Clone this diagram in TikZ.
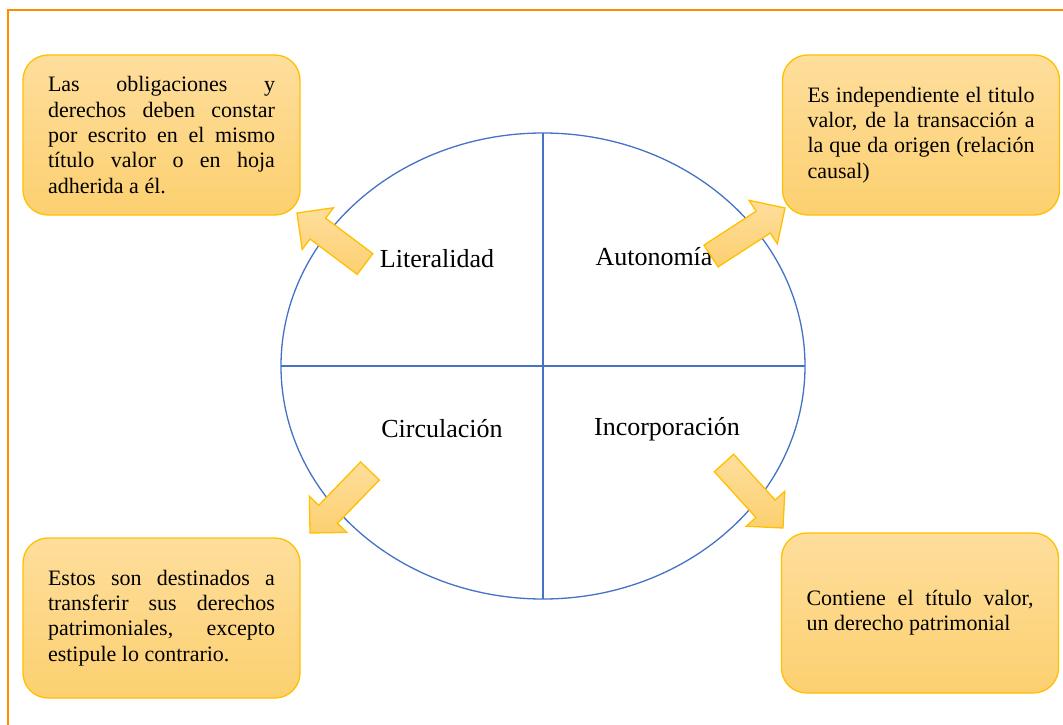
\documentclass[tikz,border=0pt]{standalone}
\usepackage{fontspec}
\setmainfont{Liberation Serif}
\usetikzlibrary{calc,shapes.geometric}
\tolerance=10000 \hbadness=10000
\definecolor{frameor}{RGB}{255,140,0}
\definecolor{circblue}{RGB}{68,114,196}
\definecolor{boxtop}{RGB}{254,222,156}
\definecolor{boxbot}{RGB}{252,208,112}
\definecolor{boxline}{RGB}{255,192,0}
\newcommand\blockarr[2]{%
  \coordinate (#1h) at ($(#2)!26pt!(#1)$);
  \path[blockarrow] ($(#1)!13pt!90:(#2)$) -- ($(#1h)!13pt!90:(#2)$) -- ($(#1h)!26pt!90:(#2)$)
    -- (#2) -- ($(#1h)!26pt!-90:(#2)$) -- ($(#1h)!13pt!-90:(#2)$) -- ($(#1)!13pt!-90:(#2)$) -- cycle;}
\begin{document}
\begin{tikzpicture}[x=1pt,y=-1pt,
  infobox/.style={draw=boxline, line width=1.3pt, rounded corners=25pt, top color=boxtop, bottom color=boxbot,
    text width=227pt, align=justify, inner xsep=25pt, inner ysep=0pt, minimum height=160pt,
    font=\fontsize{22}{25.3}\selectfont},
  quad/.style={font=\fontsize{26}{30}\selectfont, anchor=base, inner sep=0pt},
  blockarrow/.style={draw=boxline, line width=1.3pt, top color=boxtop, bottom color=boxbot, line join=miter},
  ]
\useasboundingbox (0,0) rectangle (1063,725);
\draw[frameor, line width=1.5pt] (8,725) -- (8,10) -- (1063,10);

\node[ellipse, draw=circblue, line width=1.3pt, minimum width=524pt, minimum height=466pt, inner sep=0pt, outer sep=0pt] (circ) at (543,366) {};
\draw[circblue, line width=1.3pt] (circ.north) -- (circ.south);
\draw[circblue, line width=1.3pt] (circ.west) -- (circ.east);

\node[quad] (lit) at (437,267) {Literalidad};
\node[quad] (aut) at (654,265) {Autonomía};
\node[quad] (cir) at (442,437) {Circulación};
\node[quad] (inc) at (667,435) {Incorporación};

\node[infobox] (tl) at (161.5,135) {Las obligaciones y\linebreak derechos deben constar\linebreak por escrito en el mismo\linebreak título valor o en hoja\linebreak adherida a él.};
\node[infobox] (tr) at (921,135) {Es independiente el titulo\linebreak valor, de la transacción a\linebreak la que da origen (relación\linebreak causal)};
\node[infobox] (bl) at (161.5,618) {Estos son destinados a\linebreak transferir sus derechos\linebreak patrimoniales, excepto\linebreak estipule lo contrario.};
\node[infobox] (br) at (920,613) {Contiene el título valor,\linebreak un derecho patrimonial};

\coordinate (tlT) at (365,264); \coordinate (tlP) at (297,213);
\coordinate (trT) at (711,256); \coordinate (trP) at (785,208);
\coordinate (blT) at (370,471); \coordinate (blP) at (310,533);
\coordinate (brT) at (724,463); \coordinate (brP) at (783,528);
\blockarr{tlT}{tlP}
\blockarr{trT}{trP}
\blockarr{blT}{blP}
\blockarr{brT}{brP}
\end{tikzpicture}
\end{document}
